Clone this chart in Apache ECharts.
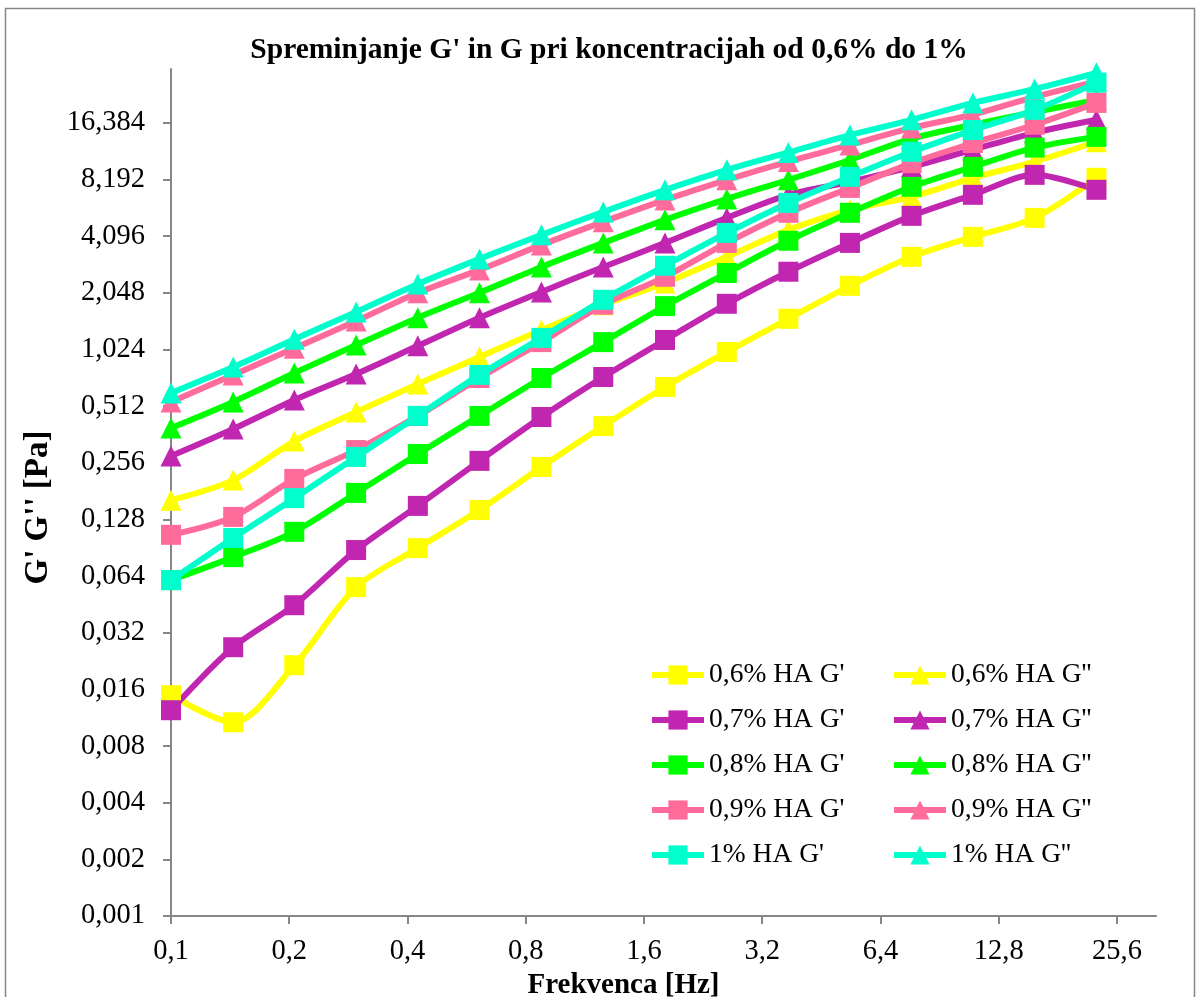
<!DOCTYPE html>
<html>
<head>
<meta charset="utf-8">
<title>Spreminjanje G' in G</title>
<script src="https://cdn.jsdelivr.net/npm/echarts@6.0.0/dist/echarts.min.js"></script>
<style>
  html, body { margin: 0; padding: 0; background: #fff; }
  #main { width: 1200px; height: 997px; }
</style>
</head>
<body>
<div id="main"></div>
<script>
// frekvenca [Hz]
var freq = [0.1, 0.144, 0.206, 0.296, 0.425, 0.61, 0.877, 1.26, 1.81, 2.6, 3.73, 5.35, 7.68, 11.0, 15.8, 22.7];

// G' in G'' [Pa]
var ha06_G1 = [0.0149, 0.0107, 0.0215, 0.0559, 0.0901, 0.1435, 0.243, 0.401, 0.647, 0.993, 1.49, 2.23, 3.18, 4.06, 5.12, 8.36];
var ha06_G2 = [0.162, 0.207, 0.334, 0.476, 0.671, 0.934, 1.30, 1.77, 2.31, 3.18, 4.42, 5.65, 6.62, 8.36, 10.2, 13.0];
var ha07_G1 = [0.0124, 0.0268, 0.0448, 0.088, 0.151, 0.262, 0.448, 0.731, 1.15, 1.79, 2.65, 3.77, 5.25, 6.79, 8.67, 7.22];
var ha07_G2 = [0.278, 0.387, 0.552, 0.758, 1.07, 1.51, 2.07, 2.81, 3.77, 5.12, 6.79, 7.96, 9.56, 11.8, 14.5, 17.0];
var ha08_G1 = [0.0609, 0.0807, 0.110, 0.177, 0.285, 0.454, 0.722, 1.12, 1.74, 2.61, 3.87, 5.45, 7.49, 9.56, 12.1, 13.8];
var ha08_G2 = [0.392, 0.539, 0.768, 1.08, 1.51, 2.05, 2.81, 3.77, 5.00, 6.46, 8.16, 10.4, 13.5, 16.0, 18.7, 21.7];
var ha09_G1 = [0.106, 0.132, 0.210, 0.299, 0.454, 0.722, 1.12, 1.77, 2.49, 3.77, 5.45, 7.39, 10.0, 12.8, 16.0, 20.9];
var ha09_G2 = [0.539, 0.750, 1.04, 1.45, 2.05, 2.71, 3.68, 4.88, 6.38, 8.16, 10.2, 12.5, 15.4, 18.1, 22.5, 27.1];
var ha10_G1 = [0.0609, 0.102, 0.166, 0.275, 0.454, 0.750, 1.18, 1.88, 2.85, 4.26, 6.15, 8.46, 11.5, 15.0, 19.2, 26.8];
var ha10_G2 = [0.601, 0.826, 1.16, 1.62, 2.28, 3.10, 4.16, 5.51, 7.22, 9.22, 11.4, 14.1, 17.0, 20.9, 24.8, 30.2];

// oznake osi (log2)
var xTicks = [0.1, 0.2, 0.4, 0.8, 1.6, 3.2, 6.4, 12.8, 25.6];
var yTicks = [0.001, 0.002, 0.004, 0.008, 0.016, 0.032, 0.064, 0.128, 0.256, 0.512, 1.024, 2.048, 4.096, 8.192, 16.384];

var concNames = ['0,6% HA', '0,7% HA', '0,8% HA', '0,9% HA', '1% HA'];
var colors = ['#FFFF00', '#C026B0', '#00FF00', '#FF6C9C', '#00FFCC'];
var gPrime = [ha06_G1, ha07_G1, ha08_G1, ha09_G1, ha10_G1];
var gDouble = [ha06_G2, ha07_G2, ha08_G2, ha09_G2, ha10_G2];

var X0 = 0.1, Y0 = 0.001;
function lx(v) { return Math.log(v / X0) / Math.LN2; }
function ly(v) { return Math.log(v / Y0) / Math.LN2; }
function toPairs(vals) {
    var out = [];
    for (var i = 0; i < freq.length; i++) {
        out.push([lx(freq[i]), ly(vals[i])]);
    }
    return out;
}

var serif = 'Liberation Serif, Times New Roman, serif';
var series = [];
var legend1 = [], legend2 = [];
for (var i = 0; i < concNames.length; i++) {
    var n1 = concNames[i] + " G'";
    var n2 = concNames[i] + " G''";
    legend1.push(n1);
    legend2.push(n2);
    series.push({
        name: n1, type: 'line', smooth: 0.3, clip: false,
        symbol: 'rect', symbolSize: 20,
        lineStyle: { width: 6, color: colors[i] },
        itemStyle: { color: colors[i] },
        data: toPairs(gPrime[i])
    });
    series.push({
        name: n2, type: 'line', smooth: 0.3, clip: false,
        symbol: 'triangle', symbolSize: 21,
        lineStyle: { width: 6, color: colors[i] },
        itemStyle: { color: colors[i] },
        data: toPairs(gDouble[i])
    });
}

var legendBase = {
    orient: 'vertical',
    top: 661,
    padding: 0,
    itemWidth: 52,
    itemHeight: 24,
    itemGap: 17,
    lineStyle: { width: 6 },
    textStyle: { fontFamily: serif, fontSize: 27.5, color: '#000' }
};

var myChart = echarts.init(document.getElementById('main'));

var option = {
    backgroundColor: '#fff',
    animation: false,
    title: {
        text: "Spreminjanje G' in G pri koncentracijah od 0,6% do 1%",
        left: 604,
        textAlign: 'center',
        top: 30,
        textStyle: { fontFamily: serif, fontWeight: 'bold', fontSize: 29.5, color: '#000' }
    },
    graphic: [{
        type: 'rect',
        shape: { x: 5.5, y: 8.5, width: 1189, height: 1000 },
        style: { fill: null, stroke: '#868686', lineWidth: 1.5 },
        silent: true
    }],
    legend: [
        echarts.util.merge({ left: 649, data: legend1 }, legendBase),
        echarts.util.merge({ left: 891, data: legend2 }, legendBase)
    ],
    grid: { left: 171, top: 69, width: 985, height: 847, containLabel: false, outerBoundsMode: 'none' },
    xAxis: {
        type: 'value',
        min: 0,
        max: 8.33,
        name: 'Frekvenca [Hz]',
        nameLocation: 'middle',
        nameGap: 40,
        nameTextStyle: { fontFamily: serif, fontWeight: 'bold', fontSize: 29, color: '#000', padding: [0, 80, 0, 0] },
        splitLine: { show: false },
        axisLine: { show: true, lineStyle: { color: '#868686', width: 2 } },
        axisTick: { show: true, length: 8, lineStyle: { color: '#868686', width: 2 }, customValues: xTicks.map(lx) },
        axisLabel: {
            margin: 21,
            fontFamily: serif, fontSize: 28.5, color: '#000',
            customValues: xTicks.map(lx),
            formatter: function (v) { return (X0 * Math.pow(2, v)).toFixed(1).replace('.', ','); }
        }
    },
    yAxis: {
        type: 'value',
        min: 0,
        max: 14.95,
        name: "G' G'' [Pa]",
        nameLocation: 'middle',
        nameGap: 116,
        nameTextStyle: { fontFamily: serif, fontWeight: 'bold', fontSize: 33, color: '#000', padding: [0, 30, 0, 0] },
        splitLine: { show: false },
        axisLine: { show: true, lineStyle: { color: '#868686', width: 2 } },
        axisTick: { show: true, length: 8, lineStyle: { color: '#868686', width: 2 }, customValues: yTicks.map(ly) },
        axisLabel: {
            margin: 26,
            fontFamily: serif, fontSize: 28.5, color: '#000',
            customValues: yTicks.map(ly),
            formatter: function (v) { return (Y0 * Math.pow(2, v)).toFixed(3).replace('.', ','); }
        }
    },
    series: series
};

myChart.setOption(option);
window.onresize = myChart.resize;
</script>
</body>
</html>
